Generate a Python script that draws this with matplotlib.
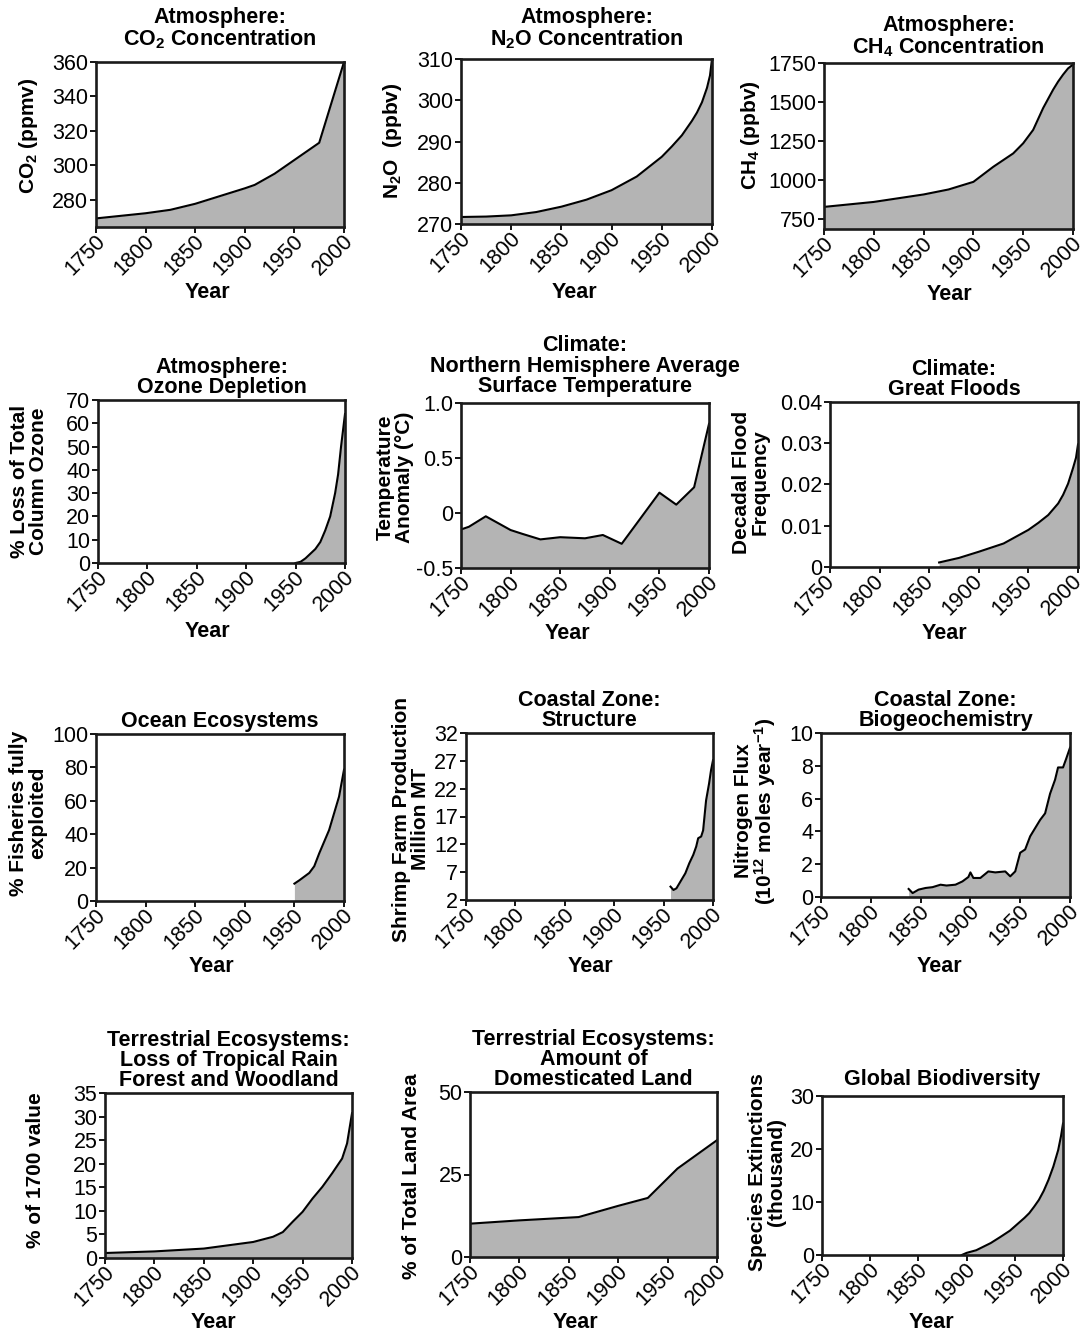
import matplotlib
matplotlib.use("Agg")
import matplotlib.pyplot as plt
import matplotlib.transforms as mtransforms

plt.rcParams["font.family"] = ["Liberation Sans", "DejaVu Sans"]
plt.rcParams["mathtext.fontset"] = "custom"
plt.rcParams["mathtext.rm"] = "Liberation Sans:bold"
plt.rcParams["mathtext.it"] = "Liberation Sans:bold"
plt.rcParams["mathtext.bf"] = "Liberation Sans:bold"

x_ticks = [1750, 1800, 1850, 1900, 1950, 2000]

# values
co2_years = [1750, 1800, 1825, 1850, 1875, 1900, 1910, 1930, 1950, 1965, 1975, 2000]
co2_vals = [269, 272, 274, 277.5, 282, 286.5, 288.5, 295, 303, 309, 313, 360]

n2o_years = [1750, 1775, 1800, 1825, 1850, 1875, 1900, 1925, 1950, 1960, 1970, 1980,
             1985, 1990, 1995, 1998, 2000]
n2o_vals = [271.7, 271.8, 272.1, 272.9, 274.2, 275.9, 278.2, 281.5, 286.3, 288.8, 291.5, 295,
            297, 299.5, 303, 306, 310]

ch4_years = [1750, 1800, 1850, 1875, 1900, 1920, 1940, 1950, 1960, 1970, 1980, 1985, 1990, 1995, 2000]
ch4_vals = [825, 857, 905, 937, 986, 1083, 1169, 1234, 1320, 1460, 1578, 1630, 1675, 1715, 1740]

ozone_years = [1950, 1955, 1960, 1965, 1970, 1975, 1980, 1985, 1990, 1993, 1996, 1998, 2000]
ozone_vals = [0, 0.5, 2, 4, 6, 9, 14, 20, 30, 38, 50, 57, 64]

temp_years = [1750, 1758, 1775, 1800, 1812, 1830, 1850, 1875, 1893, 1912, 1930, 1950, 1967, 1985, 2000]
temp_vals = [-0.15, -0.125, -0.03, -0.155, -0.19, -0.24, -0.22, -0.23, -0.2, -0.28, -0.06, 0.185, 0.076, 0.234, 0.81]

flood_years = [1860, 1880, 1900, 1925, 1950, 1960, 1970, 1980, 1985, 1990, 1995, 1998, 2000]
flood_vals = [0.0011, 0.0022, 0.0037, 0.0057, 0.009, 0.0107, 0.0126, 0.0154, 0.0175, 0.0202,
              0.024, 0.0265, 0.0297]

fish_years = [1950, 1955, 1965, 1970, 1975, 1980, 1985, 1990, 1995, 2000]
fish_vals = [10.4, 12.4, 16.8, 20.8, 28.5, 35.5, 42.5, 52.5, 62.5, 78.6]

shrimp_years = [1957, 1960, 1963, 1967, 1972, 1976, 1980, 1983, 1985, 1988, 1990, 1993, 1996, 1998, 2000]
shrimp_vals = [4.4, 3.8, 4.1, 5.3, 6.8, 8.6, 10.1, 11.6, 13.1, 13.4, 14.5, 19.9, 22.9, 25.3, 27.1]

nitro_years = [1838, 1842, 1848, 1855, 1862, 1870, 1876, 1885, 1892, 1898, 1900, 1903, 1910, 1918,
               1925, 1935, 1940, 1945, 1950, 1955, 1960, 1970, 1975, 1980, 1985, 1988, 1993, 1996, 2000]
nitro_vals = [0.49, 0.24, 0.45, 0.55, 0.6, 0.75, 0.7, 0.75, 0.95, 1.22, 1.5, 1.16, 1.16, 1.56,
              1.5, 1.56, 1.26, 1.56, 2.7, 2.9, 3.7, 4.7, 5.1, 6.3, 7.15, 7.9, 7.9, 8.4, 9.1]

forest_years = [1750, 1800, 1850, 1875, 1900, 1920, 1930, 1940, 1950, 1960, 1970, 1980, 1990, 1995, 2000]
forest_vals = [1.06, 1.4, 2.0, 2.7, 3.4, 4.5, 5.5, 7.7, 9.8, 12.6, 15.1, 18, 21.1, 24.3, 30.7]

land_years = [1750, 1800, 1860, 1900, 1930, 1960, 2000]
land_vals = [10.1, 11.1, 12.1, 15.5, 17.9, 26.8, 35.4]

species_years = [1895, 1900, 1910, 1925, 1935, 1945, 1950, 1955, 1960, 1965, 1970, 1975,
                 1980, 1985, 1990, 1995, 1998, 2000]
species_vals = [0, 0.4, 0.9, 2.25, 3.4, 4.6, 5.4, 6.2, 7.0, 7.9, 9.1, 10.4,
                12.1, 14.2, 16.7, 19.8, 22.5, 24.8]

W, H = 1084, 1334
fig = plt.figure(figsize=(W / 100, H / 100), dpi=100)

panels = [
    # title, title pad, ylabel, years, vals, ylim, yticks, yticklabels, box(l,t,r,b), ylabel (x, y), Year (x, y)
    ("Atmosphere:\nCO$_2$ Concentration", 12, "CO$_2$ (ppmv)", co2_years, co2_vals, (264, 360),
     [280, 300, 320, 340, 360], None, (96, 62, 344, 227), (29, 136), (207, 292)),
    ("Atmosphere:\nN$_2$O Concentration", 10, "N$_2$O  (ppbv)", n2o_years, n2o_vals, (270, 310),
     [270, 280, 290, 300, 310], None, (461, 59, 712, 224), (393, 141), (574, 293)),
    ("Atmosphere:\nCH$_4$ Concentration", 7, "CH$_4$ (ppbv)", ch4_years, ch4_vals, (683, 1750),
     [750, 1000, 1250, 1500, 1750], None, (824, 63, 1073, 229), (751, 135), (949, 295)),
    ("Atmosphere:\nOzone Depletion", 5, "% Loss of Total\nColumn Ozone", ozone_years, ozone_vals, (0, 70),
     [0, 10, 20, 30, 40, 50, 60, 70], None, (98, 400, 345, 563), (29, 481), (207, 632)),
    ("Climate:\nNorthern Hemisphere Average\nSurface Temperature", 8, "Temperature\nAnomaly (°C)",
     temp_years, temp_vals, (-0.5, 1.0), [-0.5, 0, 0.5, 1.0], ["-0.5", "0", "0.5", "1.0"],
     (461, 403, 709, 568), (395, 477), (567, 633)),
    ("Climate:\nGreat Floods", 5, "Decadal Flood\nFrequency", flood_years, flood_vals, (0, 0.04),
     [0, 0.01, 0.02, 0.03, 0.04], ["0", "0.01", "0.02", "0.03", "0.04"],
     (830, 402, 1078, 567), (751, 482), (944, 634)),
    ("Ocean Ecosystems", 5, "% Fisheries fully\nexploited", fish_years, fish_vals, (0, 100),
     [0, 20, 40, 60, 80, 100], None, (96, 734, 344, 901), (28, 813), (211, 967)),
    ("Coastal Zone:\nStructure", 5, "Shrimp Farm Production\nMillion MT", shrimp_years, shrimp_vals, (2, 32),
     [2, 7, 12, 17, 22, 27, 32], None, (466, 733, 713, 900), (411, 819), (590, 966)),
    ("Coastal Zone:\nBiogeochemistry", 5, "Nitrogen Flux\n(10$^{12}$ moles year$^{-1}$)", nitro_years,
     nitro_vals, (0, 10), [0, 2, 4, 6, 8, 10], None, (821, 733, 1070, 897), (756, 811), (939, 967)),
    ("Terrestrial Ecosystems:\nLoss of Tropical Rain\nForest and Woodland", 5, "% of 1700 value",
     forest_years, forest_vals, (0, 35), [0, 5, 10, 15, 20, 25, 30, 35], None,
     (105, 1093, 352, 1258), (36, 1170), (213, 1323)),
    ("Terrestrial Ecosystems:\nAmount of\nDomesticated Land", 5, "% of Total Land Area",
     land_years, land_vals, (0, 50), [0, 25, 50], None, (470, 1092, 717, 1257), (411, 1176), (575, 1323)),
    ("Global Biodiversity", 8, "Species Extinctions\n(thousand)", species_years, species_vals, (0, 30),
     [0, 10, 20, 30], None, (822, 1096, 1063, 1255), (767, 1172), (931, 1323)),
]

for (title, tpad, ylabel, xs, ys, ylim, yticks, ytl, bx, ylxy, yearxy) in panels:
    l, t, r, b = bx
    ax = fig.add_axes([l / W, 1 - b / H, (r - l) / W, (b - t) / H])
    ax.fill_between(xs, ys, ylim[0], color="#b4b4b4", linewidth=0)
    ax.plot(xs, ys, color="black", lw=1.5)
    ax.set_xlim(1750, 2000)
    ax.set_ylim(*ylim)
    ax.set_xticks(x_ticks)
    ax.set_xticklabels([str(v) for v in x_ticks], rotation=45, ha="right", va="center",
                       rotation_mode="anchor", fontsize=15.5)
    ax.set_yticks(yticks)
    if ytl is not None:
        ax.set_yticklabels(ytl)
    ax.tick_params(axis="y", labelsize=15.5, length=4, width=1.3, pad=1.5)
    ax.tick_params(axis="x", length=4, width=1.3, pad=4)
    # shift the rotated year labels a little to the right, less at the page edge
    dx = 1 if r > 1075 else 6
    offset = mtransforms.ScaledTranslation(dx / 100, 0, fig.dpi_scale_trans)
    for lab in ax.get_xticklabels():
        lab.set_transform(lab.get_transform() + offset)
    for sp in ax.spines.values():
        sp.set_linewidth(1.9)
        sp.set_color("#1a1a1a")
    ax.set_title(title, fontsize=15.5, fontweight="bold", linespacing=0.95, pad=tpad)
    fig.text(ylxy[0] / W, 1 - ylxy[1] / H, ylabel, rotation=90, ha="center", va="center",
             fontsize=15, fontweight="bold", linespacing=1.0)
    fig.text(yearxy[0] / W, 1 - yearxy[1] / H, "Year", ha="center", va="center",
             fontsize=15.5, fontweight="bold")

fig.savefig("out.png", dpi=100)
